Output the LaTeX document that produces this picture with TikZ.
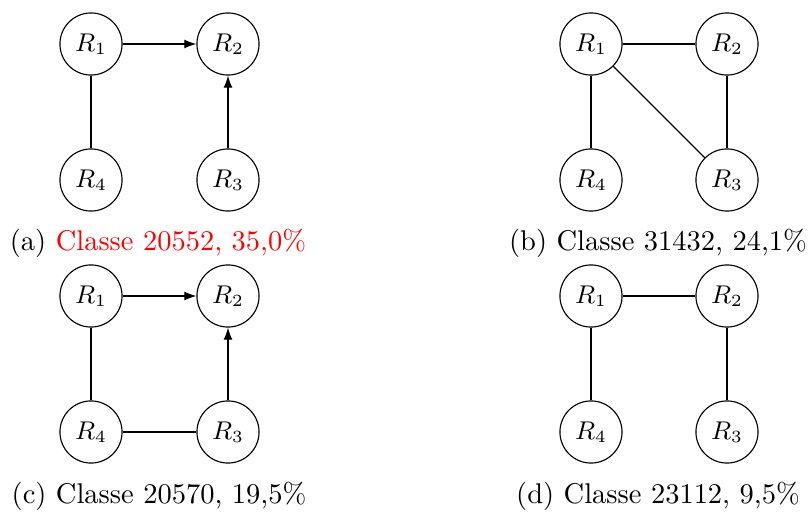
\documentclass[tikz,border=0pt]{standalone}
\usetikzlibrary{arrows.meta}
\begin{document}
\begin{tikzpicture}[x=0.351pt,y=-0.351pt,
  rnode/.style={circle,draw,line width=0.4pt,minimum size=21.8pt,inner sep=0pt,font=\small},
  arr/.style={-{Latex[length=4.2pt,width=3.1pt]},line width=0.4pt},
  edge/.style={line width=0.4pt},
  capt/.style={anchor=base,inner sep=0pt,font=\normalsize}]
\useasboundingbox (0,0) rectangle (811,512);
% (a)
\node[rnode] (a1) at (91,44) {$R_1$};
\node[rnode] (a2) at (228,44) {$R_2$};
\node[rnode] (a4) at (91,180) {$R_4$};
\node[rnode] (a3) at (228,180) {$R_3$};
\draw[arr] (a1) -- (a2);
\draw[edge] (a1) -- (a4);
\draw[arr] (a3) -- (a2);
\node[capt] (ca) at (158,250) {(a) \textcolor{red}{Classe 20552, 35,0\%}};
% (b)
\node[rnode] (b1) at (591,44) {$R_1$};
\node[rnode] (b2) at (727,44) {$R_2$};
\node[rnode] (b4) at (591,180) {$R_4$};
\node[rnode] (b3) at (727,180) {$R_3$};
\draw[edge] (b1) -- (b2);
\draw[edge] (b1) -- (b4);
\draw[edge] (b1) -- (b3);
\draw[edge] (b2) -- (b3);
\node[capt] (cb) at (658,250) {(b) Classe 31432, 24,1\%};
% (c)
\node[rnode] (c1) at (91,296) {$R_1$};
\node[rnode] (c2) at (228,296) {$R_2$};
\node[rnode] (c4) at (91,432) {$R_4$};
\node[rnode] (c3) at (228,432) {$R_3$};
\draw[arr] (c1) -- (c2);
\draw[edge] (c1) -- (c4);
\draw[arr] (c3) -- (c2);
\draw[edge] (c4) -- (c3);
\node[capt] (cc) at (159,503) {(c) Classe 20570, 19,5\%};
% (d)
\node[rnode] (d1) at (591,296) {$R_1$};
\node[rnode] (d2) at (727,296) {$R_2$};
\node[rnode] (d4) at (591,432) {$R_4$};
\node[rnode] (d3) at (727,432) {$R_3$};
\draw[edge] (d1) -- (d2);
\draw[edge] (d1) -- (d4);
\draw[edge] (d2) -- (d3);
\node[capt] (cd) at (658,503) {(d) Classe 23112, 9,5\%};
\end{tikzpicture}
\end{document}
